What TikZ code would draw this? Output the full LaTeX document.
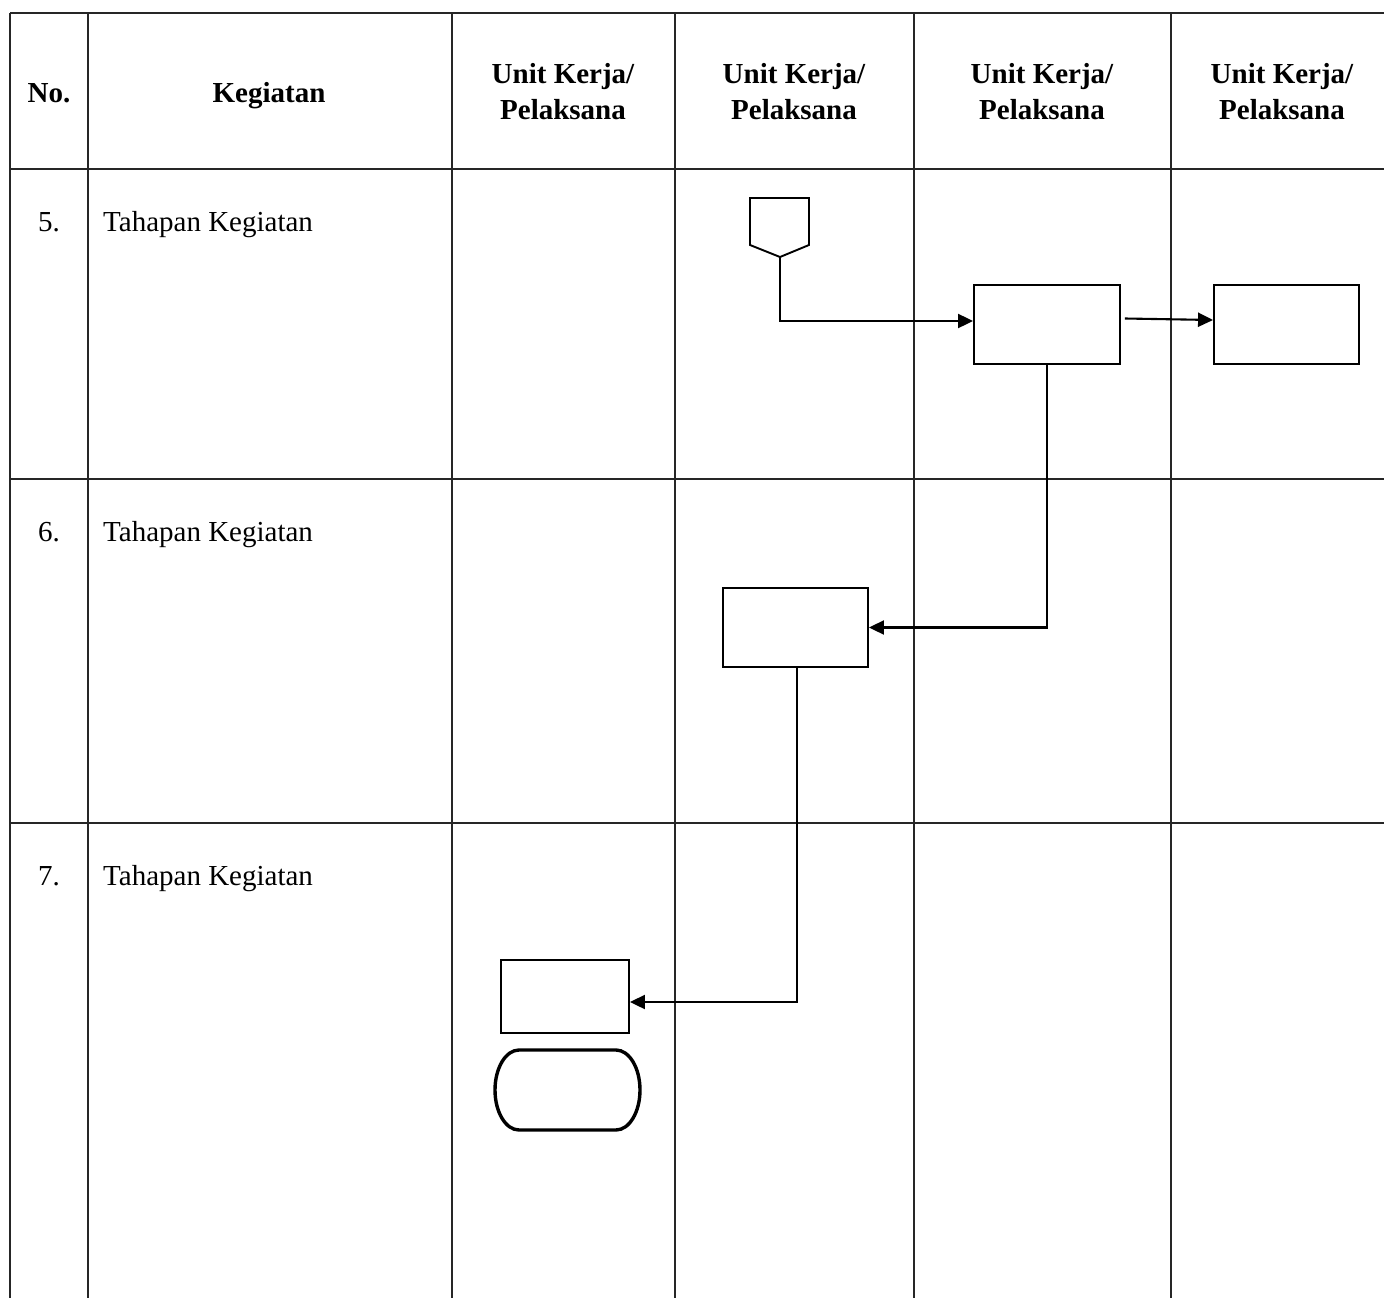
\documentclass[tikz,border=0pt]{standalone}
\usepackage{fontspec}
\setmainfont{Liberation Serif}
\usetikzlibrary{arrows.meta}
\tikzset{
  grid/.style={line width=1.3pt,draw=black!85},
  procbox/.style={draw,line width=1.9pt,rectangle,inner sep=0pt},
  termline/.style={line width=3.4pt},
  flow/.style={line width=2.1pt,-{Triangle[length=15pt,width=14pt]}},
  hdr/.style={font=\fontsize{29}{35}\selectfont\bfseries,align=center,anchor=base,inner sep=0pt},
  txt/.style={font=\fontsize{29}{35}\selectfont,anchor=base west,inner sep=0pt},
  num/.style={font=\fontsize{29}{35}\selectfont,anchor=base,inner sep=0pt}
}
\begin{document}
\begin{tikzpicture}[x=1pt,y=-1pt]
\useasboundingbox (0,0) rectangle (1384,1298);
% table grid
\foreach \xx in {10,88,452,675,914,1171}
  \draw[grid] (\xx,13) -- (\xx,1298);
\foreach \yy in {13,169,479,823}
  \draw[grid] (10,\yy) -- (1384,\yy);
% header
\node[hdr] (hno) at (49,102) {No.};
\node[hdr] (hkeg) at (269,102) {Kegiatan};
\node[hdr] (hu1a) at (563,84) {Unit Kerja/};
\node[hdr] (hu1b) at (563,119) {Pelaksana};
\node[hdr] (hu2a) at (794,84) {Unit Kerja/};
\node[hdr] (hu2b) at (794,119) {Pelaksana};
\node[hdr] (hu3a) at (1042,84) {Unit Kerja/};
\node[hdr] (hu3b) at (1042,119) {Pelaksana};
\node[hdr] (hu4a) at (1282,84) {Unit Kerja/};
\node[hdr] (hu4b) at (1282,119) {Pelaksana};
% rows
\node[num] (n5) at (49,231) {5.};
\node[txt] (t5) at (103,231) {Tahapan Kegiatan};
\node[num] (n6) at (49,541) {6.};
\node[txt] (t6) at (103,541) {Tahapan Kegiatan};
\node[num] (n7) at (49,885) {7.};
\node[txt] (t7) at (103,885) {Tahapan Kegiatan};
% off-page connector
\draw[line width=1.9pt,line join=miter] (750,198) -- (809,198) -- (809,245) -- (780,257) -- (750,245) -- cycle;
\coordinate (offp) at (780,257);
% boxes
\node[procbox,minimum width=146pt,minimum height=79pt] (b1) at (1047,324.5) {};
\node[procbox,minimum width=145pt,minimum height=79pt] (b2) at (1286.5,324.5) {};
\node[procbox,minimum width=145pt,minimum height=79pt] (b3) at (795.5,627.5) {};
\node[procbox,minimum width=128pt,minimum height=73pt] (b4) at (565,996.5) {};
% terminal (stadium with elliptical ends)
\coordinate (term) at (567.5,1090);
\draw[termline] (519,1050) -- (616,1050)
  arc[start angle=-90,end angle=90,x radius=24,y radius=40]
  -- (519,1130)
  arc[start angle=90,end angle=270,x radius=24,y radius=40] -- cycle;
% connectors
\draw[flow] (offp) |- ([yshift=3.5pt]b1.west);
\draw[flow] ([xshift=4pt,yshift=6pt]b1.east) -- ([yshift=4.5pt]b2.west);
\draw[flow] (b1.south) |- (b3.east);
\draw[flow] ([xshift=1.5pt]b3.south) |- ([yshift=-5.5pt]b4.east);
\end{tikzpicture}
\end{document}
